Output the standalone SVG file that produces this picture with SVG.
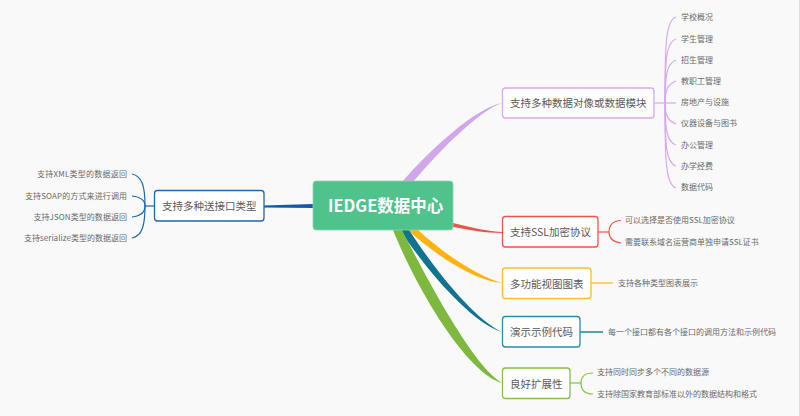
<svg xmlns="http://www.w3.org/2000/svg" width="800" height="416" viewBox="0 0 800 416">
<style>
text{font-family:"Noto Sans CJK SC","Open Sans",sans-serif;fill:#5a5a5a}
.n{font-size:10.5px;dominant-baseline:central}
.l{font-size:8px;dominant-baseline:central;fill:#6a6a6a}
.b{fill:#fff;stroke-width:1.3}
.c{fill:none;stroke-width:1.2}
.s{stroke:none}
</style>
<rect width="800" height="416" fill="#f9f9f9"/>
<rect x="799" width="1" height="416" fill="#ddd"/>
<g id="connectors">
<path class="s" fill="#d2a6ea" d="M402 182C430 150 475 108 502 103C480 110 440 150 413 182Z"/>
<path class="s" fill="#e8564c" d="M453 223C470 227 485 231 502 232V233C485 233 470 230 453 227Z"/>
<path class="s" fill="#ffb30f" d="M408 230C435 255 475 281 502 283C478 276 445 255 418 230Z"/>
<path class="s" fill="#0e7490" d="M400 230C425 268 470 322 502 332C475 320 435 270 409 230Z"/>
<path class="s" fill="#7db93f" d="M393 230C415 285 465 372 502 383C476 368 435 295 402 230Z"/>
<path class="s" fill="#0b5cad" d="M264 205.500L313 204V208L264 207.500Z"/>
<g class="c" stroke="#d9a8ee">
<path d="M654 103H676"/>
<path d="M665 103C665 50 665 20 676 17"/>
<path d="M665 103C665 60 666 42 676 39"/>
<path d="M665 103C665 75 667 63 676 60"/>
<path d="M665 103C665 90 668 84 676 81"/>
<path d="M665 103C665 115 668 121 676 124"/>
<path d="M665 103C665 130 667 142 676 145"/>
<path d="M665 103C665 145 666 163 676 166"/>
<path d="M665 103C665 155 665 185 676 188"/>
</g>
<g class="c" stroke="#e8564c">
<path d="M598 232H609"/>
<path d="M609 232C609 225 613 221 621 220.500"/>
<path d="M609 232C609 238 613 242 621 243"/>
</g>
<path class="c" stroke="#ffb30f" d="M591 283H613"/>
<path stroke="#2c8ca8" stroke-width="1.6" fill="none" d="M580 332H603"/>
<g class="c" stroke="#86c24a">
<path d="M570 383H581"/>
<path d="M581 383C581 376 585 373 593 373"/>
<path d="M581 383C581 390 585 394 593 394"/>
</g>
<g class="c" stroke="#1a68ae">
<path d="M154 206H145"/>
<path d="M145 206C145 186 142 176 132 174"/>
<path d="M145 206C145 200 141 197 132 196"/>
<path d="M145 206C145 212 141 216 132 217"/>
<path d="M145 206C145 226 142 236 132 238"/>
</g>
</g>
<g id="root"><rect x="313" y="181" width="140" height="49" rx="3" fill="#50c28b" stroke="#8ad6b2" stroke-width="0.8"/>
<text x="328" y="205" font-size="16.500" font-weight="700" dominant-baseline="central" style="fill:#fff">IEDGE数据中心</text></g>
<g id="n1"><rect class="b" x="502.500" y="88" width="151.500" height="30" rx="3" stroke="#d9a8ee"/><text class="n" x="510" y="102.500">支持多种数据对像或数据模块</text></g>
<g id="n2"><rect class="b" x="502.500" y="216.500" width="95.500" height="30.500" rx="3" stroke="#e8564c"/><text class="n" x="510" y="231.500">支持SSL加密协议</text></g>
<g id="n3"><rect class="b" x="502.500" y="268" width="88.500" height="30.500" rx="3" stroke="#ffbc2e"/><text class="n" x="510" y="283">多功能视图图表</text></g>
<g id="n4"><rect class="b" x="502.500" y="316.500" width="77.500" height="30.500" rx="3" stroke="#2c8ca8"/><text class="n" x="510" y="331.500">演示示例代码</text></g>
<g id="n5"><rect class="b" x="502.500" y="368" width="67.500" height="30.500" rx="3" stroke="#86c24a"/><text class="n" x="510" y="383">良好扩展性</text></g>
<g id="n6"><rect class="b" x="154.500" y="190.500" width="109.500" height="30.500" rx="3" stroke="#1a68ae"/><text class="n" x="162" y="205.500">支持多种送接口类型</text></g>
<g id="l1"><text class="l" x="681" y="16.500">学校概况</text></g>
<g id="l2"><text class="l" x="681" y="38">学生管理</text></g>
<g id="l3"><text class="l" x="681" y="59">招生管理</text></g>
<g id="l4"><text class="l" x="681" y="80.500">教职工管理</text></g>
<g id="l5"><text class="l" x="681" y="101.500">房地产与设施</text></g>
<g id="l6"><text class="l" x="681" y="122.500">仪器设备与图书</text></g>
<g id="l7"><text class="l" x="681" y="144">办公管理</text></g>
<g id="l8"><text class="l" x="681" y="165.500">办学经费</text></g>
<g id="l9"><text class="l" x="681" y="186.500">数据代码</text></g>
<g id="l10"><text class="l" x="625" y="219.500">可以选择是否使用SSL加密协议</text></g>
<g id="l11"><text class="l" x="625" y="241">需要联系域名运营商单独申请SSL证书</text></g>
<g id="l12"><text class="l" x="618" y="282.500">支持各种类型图表展示</text></g>
<g id="l13"><text class="l" x="608" y="331">每一个接口都有各个接口的调用方法和示例代码</text></g>
<g id="l14"><text class="l" x="597" y="371.500">支持同时同步多个不同的数据源</text></g>
<g id="l15"><text class="l" x="597" y="393">支持除国家教育部标准以外的数据结构和格式</text></g>
<g id="l16"><text class="l" x="37" y="173" textLength="90">支持XML类型的数据返回</text></g>
<g id="l17"><text class="l" x="25" y="195" textLength="102">支持SOAP的方式来进行调用</text></g>
<g id="l18"><text class="l" x="33.500" y="216" textLength="93.500">支持JSON类型的数据返回</text></g>
<g id="l19"><text class="l" x="24" y="237" textLength="103">支持serialize类型的数据返回</text></g>
</svg>
